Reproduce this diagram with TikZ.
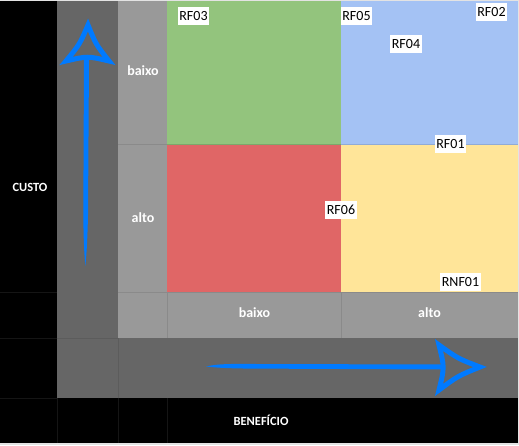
\documentclass[tikz,border=0pt]{standalone}
\usepackage{fontspec}
\setmainfont{Carlito}
\definecolor{cgreen}{HTML}{93C47D}
\definecolor{cblue}{HTML}{A4C2F4}
\definecolor{cred}{HTML}{E06666}
\definecolor{cyellow}{HTML}{FFE599}
\definecolor{dgray}{HTML}{666666}
\definecolor{lgray}{HTML}{999999}
\definecolor{sepgray}{HTML}{8A8A8A}
\definecolor{dsep}{HTML}{5C5C5C}
\definecolor{bsep}{HTML}{151515}
\definecolor{edge}{HTML}{E3E3E3}
\definecolor{arrowblue}{RGB}{0,122,255}
\begin{document}
\begin{tikzpicture}[x=1pt,y=-1pt,
  tag/.style={fill=white, text=black, font=\fontsize{14}{14}\selectfont,
    inner xsep=1.5pt, inner ysep=0pt, minimum height=18pt, text height=9.5pt, text depth=0.5pt},
  axislabel/.style={text=white, font=\bfseries\fontsize{14}{14}\selectfont, inner sep=0pt},
  titlelabel/.style={text=white, font=\bfseries\fontsize{12.5}{13}\selectfont, inner sep=0pt},
  arrowhead/.style={draw=arrowblue, line width=5pt, line join=miter},
]
\useasboundingbox (0,0) rectangle (519,445);
\fill[edge] (0,0) rectangle (519,445);
\fill[black] (0,1) rectangle (518,443);
% faint grid lines in black area
\draw[bsep, line width=0.8pt] (0,292) -- (57,292) (0,338) -- (57,338) (0,398) -- (57,398)
  (57,398) -- (57,443) (118,398) -- (118,443) (167,398) -- (167,443);
% dark gray band
\fill[dgray] (57,1) rectangle (118,398);
\fill[dgray] (57,338) rectangle (518,398);
\draw[dsep, line width=0.8pt] (57,338) -- (118,338) (118,338) -- (118,398);
% light gray band
\fill[lgray] (118,1) rectangle (167,338);
\fill[lgray] (118,292) rectangle (518,338);
\draw[sepgray, line width=0.8pt] (118,144) -- (167,144) (118,292) -- (518,292)
  (167,292) -- (167,338) (341,292) -- (341,338);
% quadrants
\fill[cgreen] (167,1) rectangle (341,144);
\fill[cblue] (341,1) rectangle (518,144);
\fill[cred] (167,144) rectangle (341,292);
\fill[cyellow] (341,144) rectangle (518,292);
\draw[cgreen!85!black, line width=0.6pt] (167,144) -- (341,144);
\draw[cblue!88!black, line width=0.6pt] (341,144) -- (518,144);
% axis value labels
\node[axislabel] (cb) at (143,71) {baixo};
\node[axislabel] (ca) at (143,218) {alto};
\node[axislabel] (bb) at (254.5,312.5) {baixo};
\node[axislabel] (ba) at (429.5,312.5) {alto};
\node[titlelabel] (custo) at (30,187) {CUSTO};
\node[titlelabel] (benef) at (261,420) {BENEFÍCIO};
% requirement tags
\node[tag] (rf03) at (193.5,16) {RF03};
\node[tag] (rf05) at (356.5,15.5) {RF05};
\node[tag] (rf02) at (491.5,11.5) {RF02};
\node[tag] (rf04) at (406,43.5) {RF04};
\node[tag] (rf01) at (450.5,143.5) {RF01};
\node[tag] (rf06) at (341,209.5) {RF06};
\node[tag] (rnf01) at (460.5,282) {RNF01};
% vertical arrow
\fill[arrowblue] (84,58) -- (89,58) -- (88,215) .. controls (87.3,245) and (86.2,258) .. (85.3,266)
  .. controls (84.6,258) and (83.6,245) .. (83.3,215) -- cycle;
\draw[arrowhead] (88,25) .. controls (79.6,44.5) .. (66,61) .. controls (87.5,56) .. (109,61)
  .. controls (95.9,44.5) .. cycle;
% horizontal arrow
\fill[arrowblue] (206,366.5) .. controls (220,363.2) and (238,364) .. (260,364)
  -- (443,364.5) -- (443,369.5) -- (260,368.6) .. controls (238,368.6) and (220,368.2) .. cycle;
\draw[arrowhead] (480,367) .. controls (458,358.6) .. (439,345) .. controls (444.5,367.5) .. (439,390)
  .. controls (458,375.9) .. cycle;
\end{tikzpicture}
\end{document}
